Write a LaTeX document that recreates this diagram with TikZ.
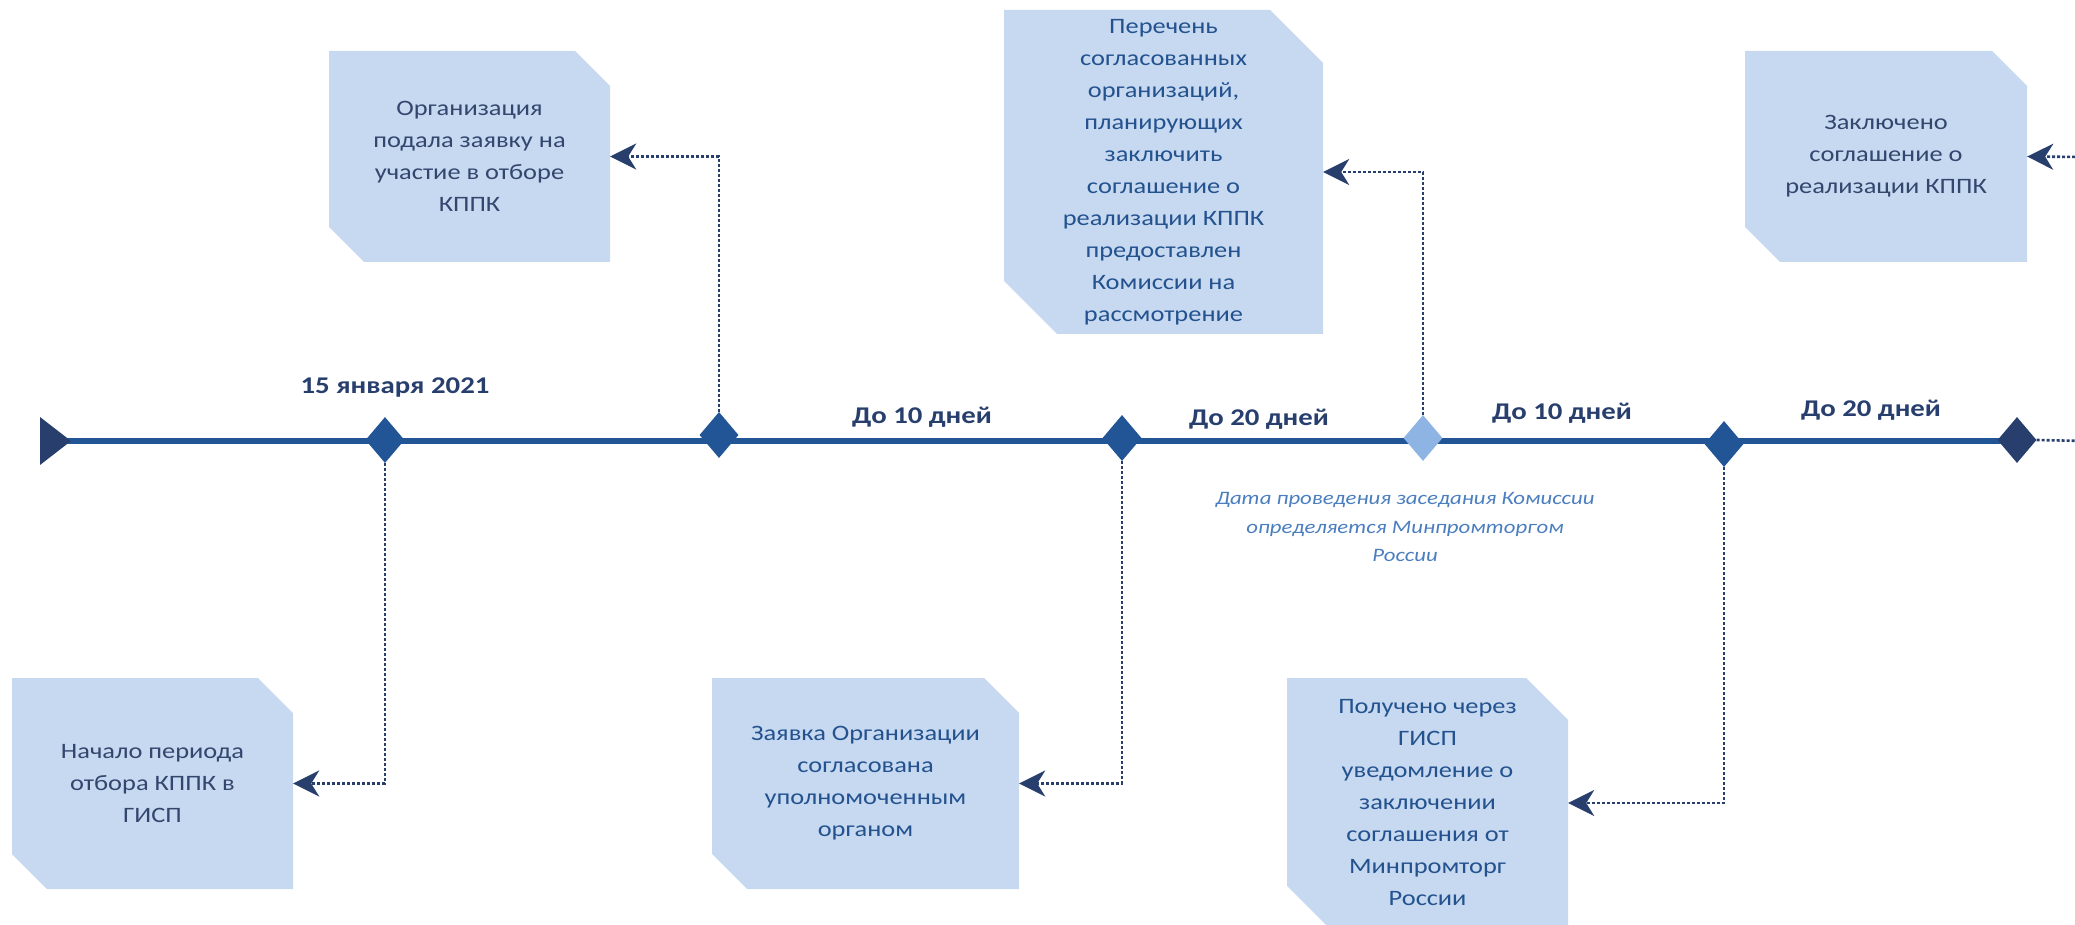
\documentclass[tikz,border=0pt]{standalone}
\usepackage{fontspec}
\setmainfont{Carlito}[FakeStretch=1.2]
\usetikzlibrary{shapes.geometric,arrows.meta}
\definecolor{boxfill}{HTML}{C6D9F0}
\definecolor{navy}{HTML}{283F6E}
\definecolor{lineblue}{HTML}{215596}
\definecolor{pale}{HTML}{8EB4E3}
\definecolor{note}{HTML}{4A7EBF}
\definecolor{txtdark}{HTML}{33466E}
\definecolor{txtmid}{HTML}{23528F}

\begin{document}
\begin{tikzpicture}[x=1pt,y=-1pt,
    evt/.style={rectangle, inner sep=0pt, align=center, text=txtdark,
        font=\fontsize{22}{32}\selectfont,
        path picture={\fill[boxfill] (path picture bounding box.south west) ++(0,#1)
            |- ([xshift=-#1]path picture bounding box.north east) -- ++(#1,-#1)
            |- ([xshift=#1]path picture bounding box.south west) -- cycle;}},
    evt/.default=35pt,
    ms/.style={diamond, fill=lineblue, minimum width=39pt, minimum height=46pt, inner sep=0pt},
    period/.style={anchor=base, text=navy, font=\bfseries\fontsize{24}{28}\selectfont},
    link/.style={navy, line width=2.6pt, dash pattern=on 3pt off 2pt,
        -{Stealth[length=26pt,width=26pt,inset=8pt]}}]
    \useasboundingbox (0,0) rectangle (2075,925);
    \clip (0,0) rectangle (2075,925);

    % timeline
    \coordinate (origin) at (40,441);
    \coordinate (tlEnd) at (2017,441);
    \coordinate (offA) at (2085,441);
    \coordinate (offB) at (2085,157);
    \draw[lineblue, line width=6pt] (origin) -- (tlEnd);
    \fill[navy] (origin) ++(0,-24) -- ++(31,24) -- ++(-31,24) -- cycle;

    \node[ms] (dStart) at (385,440) {};
    \node[ms] (dApply) at (719,435) {};
    \node[ms] (dAgreed) at (1122,438) {};
    \node[ms, fill=pale] (dMeet) at (1423,438) {};
    \node[ms] (dNotice) at (1724,444) {};
    \node[ms, fill=navy] (dSign) at (2017,440) {};

    % periods
    \node[period] (pDate) at (395,393) {15 января 2021};
    \node[period] (p1) at (922,423) {До 10 дней};
    \node[period] (p2) at (1259,425) {До 20 дней};
    \node[period] (p3) at (1562,419) {До 10 дней};
    \node[period] (p4) at (1871,416) {До 20 дней};
    \node[align=center, text=note, font=\itshape\fontsize{19}{28.5}\selectfont] (meetNote) at (1405,527)
        {Дата проведения заседания Комиссии\\определяется Минпромторгом\\России};

    % events
    \node[evt, minimum width=281pt, minimum height=211pt] (bApply) at (469.5,156.5)
        {Организация\\подала заявку на\\участие в отборе\\КППК};
    \node[evt=53pt, text=txtmid, minimum width=319pt, minimum height=324pt] (bList) at (1163.5,172)
        {Перечень\\согласованных\\организаций,\\планирующих\\заключить\\соглашение о\\реализации КППК\\предоставлен\\Комиссии на\\рассмотрение};
    \node[evt, minimum width=282pt, minimum height=211pt] (bSigned) at (1886,156.5)
        {Заключено\\соглашение о\\реализации КППК};
    \node[evt, minimum width=281pt, minimum height=211pt] (bStart) at (152.5,783.5)
        {Начало периода\\отбора КППК в\\ГИСП};
    \node[evt, text=txtmid, minimum width=307pt, minimum height=211pt] (bAgreed) at (865.5,783.5)
        {Заявка Организации\\согласована\\уполномоченным\\органом};
    \node[evt=42pt, text=txtmid, minimum width=281pt, minimum height=250pt] (bNotice) at (1427.5,803)
        {Получено через\\ГИСП\\уведомление о\\заключении\\соглашения от\\Минпромторг\\России};

    % links
    \draw[link] (dStart.south) |- (bStart.east);
    \draw[link] (dApply.north) |- (bApply.east);
    \draw[link] (dAgreed.south) |- (bAgreed.east);
    \draw[link] (dMeet.north) |- (bList.east);
    \draw[link] (dNotice.south) |- (bNotice.east);
    \draw[link, -] (dSign.east) -- (offA);
    \draw[link] (offB) -- (bSigned.east);
\end{tikzpicture}
\end{document}
